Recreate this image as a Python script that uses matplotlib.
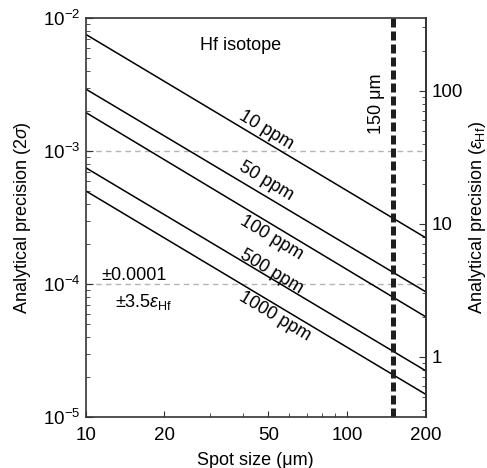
import numpy as np
import matplotlib
matplotlib.use("Agg")
import matplotlib.pyplot as plt
from matplotlib.ticker import FixedLocator, NullFormatter, FixedFormatter

plt.rcParams['font.family'] = ['Liberation Sans', 'DejaVu Sans']
plt.rcParams['mathtext.fontset'] = 'custom'
plt.rcParams['mathtext.rm'] = 'Liberation Sans'
plt.rcParams['mathtext.it'] = 'Liberation Sans:italic'
plt.rcParams['font.size'] = 13

# data
spot_ends = [10, 200]                       # spot size (um) at the axis ends
labels = ['10 ppm', '50 ppm', '100 ppm', '500 ppm', '1000 ppm']
prec_at_10 = [7.58e-3, 2.94e-3, 1.96e-3, 7.53e-4, 5.04e-4]
prec_at_200 = [2.24e-4, 8.79e-5, 5.70e-5, 2.24e-5, 1.49e-5]
label_x = [49.1, 49.1, 51.3, 51.3, 52.8]
label_y = [1.45e-3, 6.0e-4, 2.22e-4, 1.24e-4, 5.7e-5]
ref_levels = [1e-3, 1e-4]
spot_mark = 150
eps_factor = 35000.   # 1e-4 <-> 3.5 eps_Hf

fig = plt.figure(figsize=(4.87, 4.68), dpi=100)
ax = fig.add_axes([0.176, 0.1083, 0.698, 0.8526])

for lo, hi in zip(prec_at_10, prec_at_200):
    ax.plot(spot_ends, [lo, hi], color='black', lw=1.1)

for y in ref_levels:
    ax.axhline(y, color='#b4b4b4', lw=1.0, dashes=(4, 3), zorder=0)

ax.axvline(spot_mark, color='#1e1e1e', lw=3.6, dashes=(1.8, 0.8))

for x, y, lab in zip(label_x, label_y, labels):
    ax.text(x, y, lab, rotation=-31, ha='center', va='center', fontsize=13)

ax.set_xscale('log')
ax.set_yscale('log')
ax.set_xlim(10, 200)
ax.set_ylim(1e-5, 1e-2)

ax.xaxis.set_major_locator(FixedLocator([10, 20, 50, 100, 200]))
ax.xaxis.set_major_formatter(FixedFormatter(['10', '20', '50', '100', '200']))
ax.xaxis.set_minor_locator(FixedLocator([30, 40, 60, 70, 80, 90, 150]))
ax.xaxis.set_minor_formatter(NullFormatter())
ax.yaxis.set_major_locator(FixedLocator([1e-5, 1e-4, 1e-3, 1e-2]))
ax.yaxis.set_major_formatter(FixedFormatter([r'10$^{-5}$', r'10$^{-4}$',
                                             r'10$^{-3}$', r'10$^{-2}$']))

ax.tick_params(which='both', direction='in', top=False, right=False,
               color='#333333', labelsize=13.5)
ax.tick_params(axis='x', which='major', length=4, pad=7)
ax.tick_params(axis='x', which='minor', length=3)
ax.tick_params(axis='y', which='major', length=5, pad=4)
ax.tick_params(axis='y', which='minor', length=3)
for sp in ax.spines.values():
    sp.set_color('#333333')
    sp.set_linewidth(1.2)

sec = ax.secondary_yaxis('right', functions=(lambda p: p * eps_factor,
                                             lambda e: e / eps_factor))
sec.yaxis.set_major_locator(FixedLocator([1, 10, 100]))
sec.yaxis.set_major_formatter(FixedFormatter(['1', '10', '100']))
eps_minor = [m * d for d in (0.1, 1, 10, 100) for m in range(2, 10)]
sec.yaxis.set_minor_locator(FixedLocator([v for v in eps_minor if 0.35 < v < 350]))
sec.yaxis.set_minor_formatter(NullFormatter())
sec.tick_params(which='both', direction='in', color='#333333', labelsize=13.5)
sec.tick_params(which='major', length=5, pad=4)
sec.tick_params(which='minor', length=3)
sec.spines['right'].set_color('#333333')
sec.spines['right'].set_linewidth(1.2)
sec.set_ylabel(r'Analytical precision ($\it{\varepsilon}_{\rm Hf}$)', fontsize=13, labelpad=3)

ax.set_xlabel('Spot size (μm)', fontsize=13, labelpad=6)
ax.set_ylabel(r'Analytical precision (2$\it{\sigma}$)', fontsize=13, labelpad=7)

ax.text(39.2, 6.22e-3, 'Hf isotope', ha='center', va='center', fontsize=13)
ax.text(129.5, 2.28e-3, '150 μm', rotation=90, ha='center', va='center', fontsize=13)
ax.text(11.5, 1.17e-4, '±0.0001', ha='left', va='center', fontsize=13)
ax.text(12.95, 7.36e-5, r'±3.5$\it{\varepsilon}_{\rm Hf}$', ha='left', va='center', fontsize=13)

fig.savefig('out.png', dpi=100)
